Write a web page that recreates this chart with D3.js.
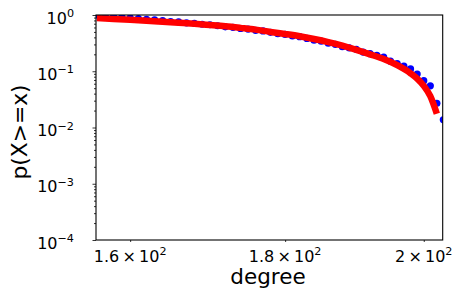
<!DOCTYPE html>
<html><head><meta charset="utf-8">
<script src="https://cdn.jsdelivr.net/npm/d3@7"></script>
<style>body{margin:0;background:#fff}svg{display:block}text{font-family:"DejaVu Sans",sans-serif;fill:#000}</style>
</head><body><svg id="c" width="459" height="297"></svg>
<script>
// CCDF data points (degree, p(X>=x))
const degrees = [156,157,158,159,160,161,162,163,164,165,166,167,168,169,170,171,172,173,174,175,176,177,178,179,180,181,182,183,184,185,186,187,188,189,190,191,192,193,194,195,196,197,198,199,200,201,202,203];
const ccdf = [1.0,0.96,0.945,0.918,0.89,0.863,0.836,0.822,0.795,0.767,0.753,0.726,0.712,0.685,0.671,0.644,0.616,0.603,0.575,0.562,0.534,0.521,0.493,0.466,0.452,0.425,0.411,0.384,0.356,0.342,0.315,0.301,0.274,0.260,0.246,0.219,0.205,0.192,0.178,0.151,0.137,0.123,0.110,0.089,0.068,0.055,0.027,0.0137];
// fitted curve
const fitX = [156,158,160,162,164,166,168,170,172,174,176,178,180,182,184,186,188,190,192,194,196,198,199,200,201,202];
const fitY = [0.88,0.85,0.82,0.79,0.76,0.73,0.70,0.665,0.63,0.59,0.55,0.50,0.46,0.42,0.375,0.33,0.285,0.24,0.20,0.165,0.128,0.092,0.074,0.055,0.036,0.0175];
const xTicks = [160,180,200];
const xTickLabels = [["1.6","2"],["1.8","2"],["2","2"]];
const yTicks = [1e-4,1e-3,1e-2,1e-1,1];
const yTickExp = ["−4","−3","−2","−1","0"];

const L=96,R=442.7,T=15,B=240;
const svg=d3.select("#c");
const x=d3.scaleLog().domain([155.9,202.9]).range([L,R]);
const y=d3.scaleLog().domain([1e-4,1]).range([B,T]);

svg.append("defs").append("clipPath").attr("id","clip").append("rect")
  .attr("x",L).attr("y",T).attr("width",R-L).attr("height",B-T);

const plot=svg.append("g").attr("clip-path","url(#clip)");
plot.selectAll("circle").data(degrees).join("circle")
  .attr("cx",d=>x(d)).attr("cy",(d,i)=>y(ccdf[i])).attr("r",3.6).attr("fill","#0000ff");
const line=d3.line().x(d=>x(d)).y((d,i)=>y(fitY[i])).curve(d3.curveMonotoneX);
plot.append("path").datum(fitX).attr("d",line).attr("fill","none")
  .attr("stroke","#ff0000").attr("stroke-width",6.5).attr("stroke-linecap","butt");

// y axis ticks
const gy=svg.append("g").attr("transform",`translate(${L},0)`);
const minor=[];
for(let e=-4;e<0;e++)for(let k=2;k<10;k++)minor.push(k*Math.pow(10,e));
gy.call(d3.axisLeft(y).tickValues(minor).tickSize(2).tickFormat(""));
gy.call(g=>g.select(".domain").remove());
const gy2=svg.append("g").attr("transform",`translate(${L},0)`);
gy2.call(d3.axisLeft(y).tickValues(yTicks).tickSize(3.5).tickFormat(""));
gy2.select(".domain").remove();
yTicks.forEach((v,i)=>{
  const t=svg.append("text").attr("x",74).attr("y",y(v)+8.5).attr("text-anchor","end").style("font-size","16px");
  t.append("tspan").text("10");
  t.append("tspan").attr("dy",-6.5).style("font-size","11.2px").text(yTickExp[i]);
});
// x axis ticks
const gx=svg.append("g").attr("transform",`translate(0,${B})`);
gx.call(d3.axisBottom(x).tickValues(xTicks).tickSize(2).tickFormat(""));
gx.select(".domain").remove();
xTicks.forEach((v,i)=>{
  const t=svg.append("text").attr("x",x(v)).attr("y",261.5).attr("text-anchor","middle").style("font-size","16px");
  t.append("tspan").text(xTickLabels[i][0]+"\u2009×\u200910");
  t.append("tspan").attr("dy",-6.7).style("font-size","11.2px").text(xTickLabels[i][1]);
});
svg.selectAll(".tick line").attr("stroke","#000").attr("stroke-width",0.8);

// frame
svg.append("rect").attr("x",L).attr("y",T).attr("width",R-L).attr("height",B-T)
  .attr("fill","none").attr("stroke","#000").attr("stroke-width",1.1);

svg.append("text").attr("x",268).attr("y",284).attr("text-anchor","middle").style("font-size","21.5px").text("degree");
svg.append("text").attr("transform","translate(27,132) rotate(-90)").attr("text-anchor","middle").style("font-size","21.8px").text("p(X>=x)");
</script></body></html>
